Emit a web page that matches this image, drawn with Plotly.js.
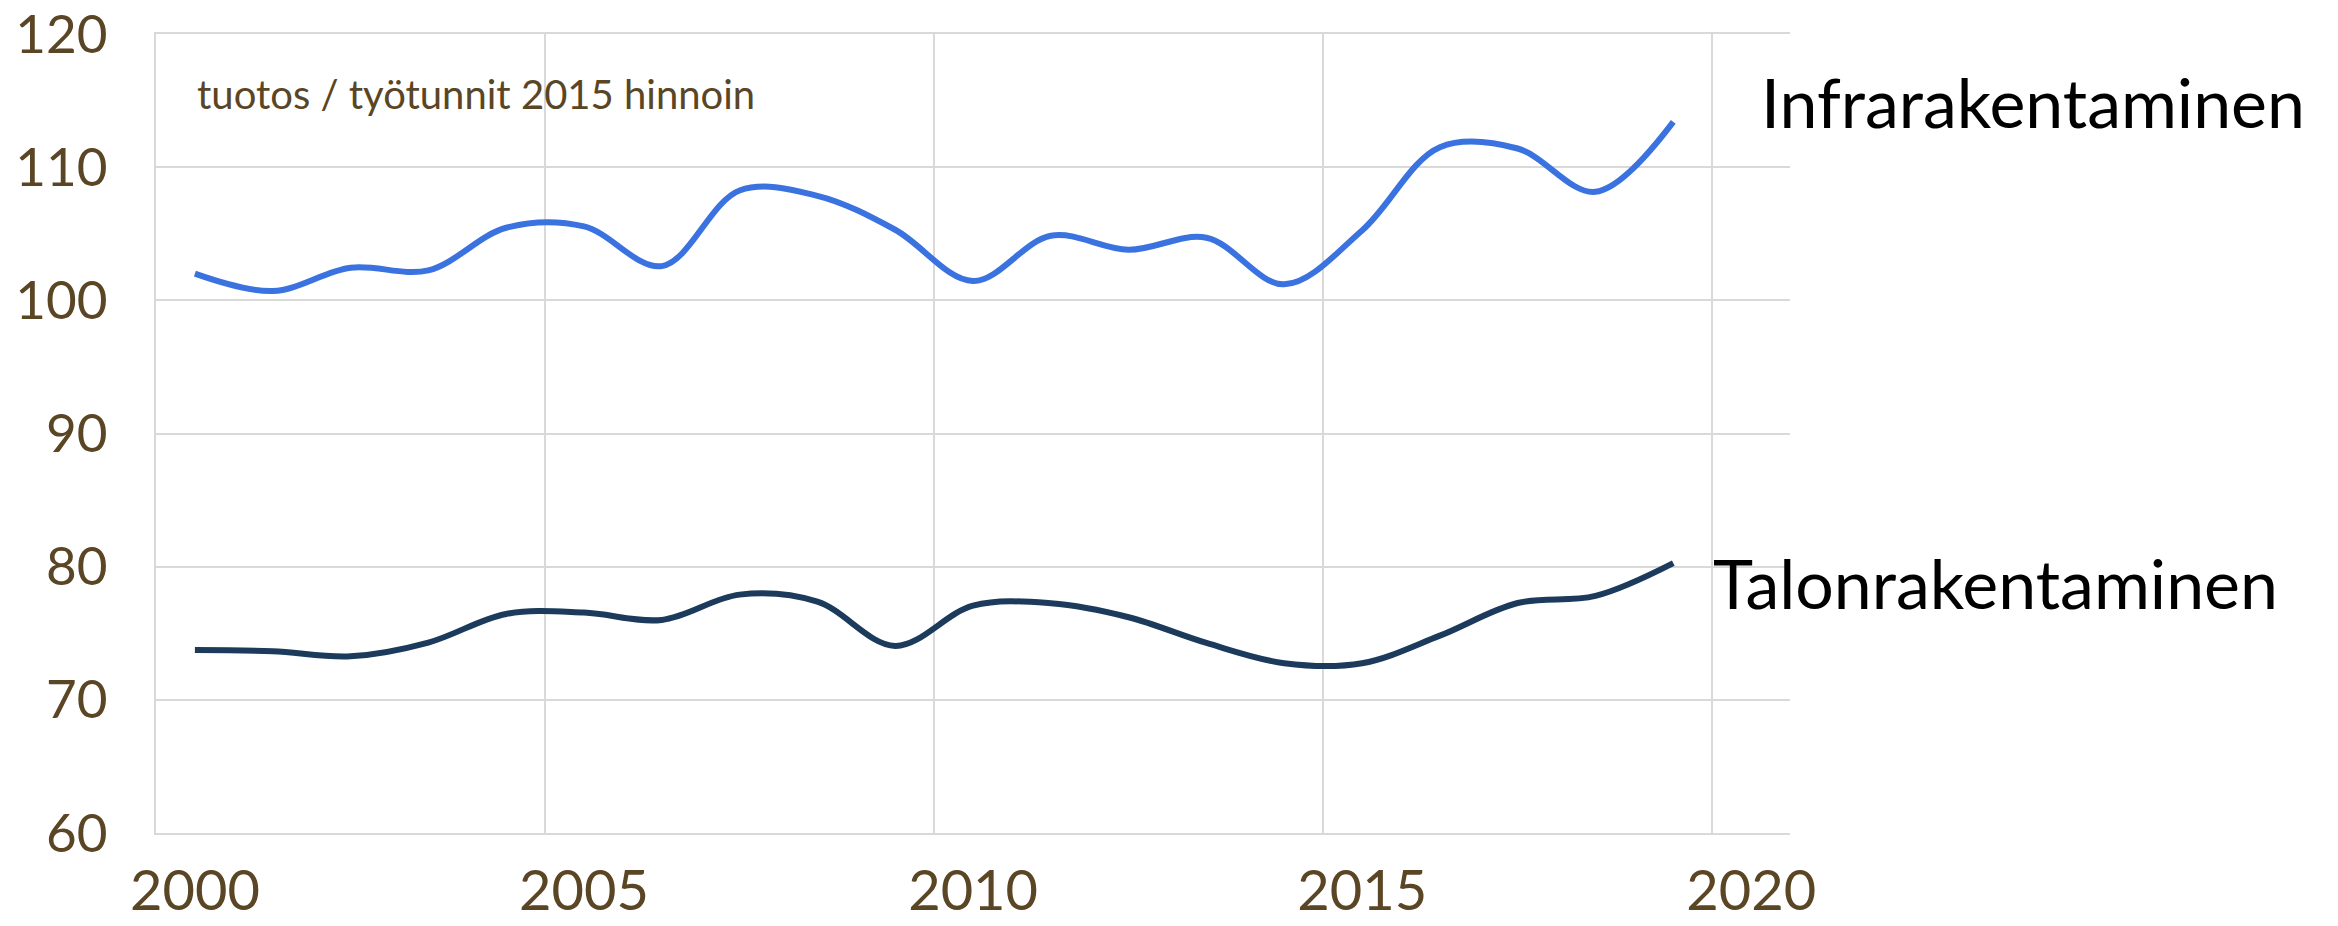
<!DOCTYPE html>
<html>
<head>
<meta charset="utf-8">
<script src="https://cdn.plot.ly/plotly-3.0.1.min.js"></script>
<style>
  html, body { margin: 0; padding: 0; background: #ffffff; }
  #chart { width: 2338px; height: 926px; }
</style>
</head>
<body>
<div id="chart"></div>
<script>
const years = [2000, 2001, 2002, 2003, 2004, 2005, 2006, 2007, 2008, 2009,
               2010, 2011, 2012, 2013, 2014, 2015, 2016, 2017, 2018, 2019];
const infrarakentaminen = [102.0, 100.7, 102.45, 102.25, 105.45, 105.55, 102.57, 108.25, 107.85, 105.3,
                           101.45, 104.85, 103.8, 104.7, 101.2, 105.25, 111.5, 111.4, 108.15, 113.4];
const talonrakentaminen = [73.75, 73.65, 73.27, 74.3, 76.45, 76.55, 76.0, 77.9, 77.37, 74.05,
                           77.07, 77.25, 76.2, 74.27, 72.75, 72.75, 74.82, 77.27, 77.8, 80.26];
const seriesNames = ["Infrarakentaminen", "Talonrakentaminen"];
const xTickLabels = ["2000", "2005", "2010", "2015", "2020"];
const xTickBoundaries = [1999.5, 2004.5, 2009.5, 2014.5, 2019.5];
const yTicks = [60, 70, 80, 90, 100, 110, 120];
const noteText = "tuotos / työtunnit 2015 hinnoin";

const tickColor = "#5a4524";
const gridColor = "#d9d9d9";
const fontFam = "Lato, 'Open Sans', sans-serif";

const traces = [
  {
    x: years, y: infrarakentaminen, name: seriesNames[0], type: "scatter", mode: "lines",
    line: { color: "#3a72e0", width: 6, shape: "spline", smoothing: 1 },
    hoverinfo: "skip"
  },
  {
    x: years, y: talonrakentaminen, name: seriesNames[1], type: "scatter", mode: "lines",
    line: { color: "#1b3a5c", width: 6, shape: "spline", smoothing: 1 },
    hoverinfo: "skip"
  }
];

const layout = {
  width: 2338, height: 926,
  margin: { l: 156, r: 548, t: 34, b: 93, pad: 0 },
  paper_bgcolor: "#ffffff", plot_bgcolor: "#ffffff",
  showlegend: false,
  font: { family: fontFam, color: tickColor },
  xaxis: {
    range: [1999.5, 2020.5],
    tickmode: "array",
    tickvals: xTickBoundaries,
    ticktext: xTickLabels,
    ticklabelshift: 39,
    ticklabelstandoff: 8,
    ticklabeloverflow: "allow",
    ticks: "",
    showgrid: true, gridcolor: gridColor, gridwidth: 2,
    showline: true, linecolor: gridColor, linewidth: 2, mirror: true,
    zeroline: false,
    tickfont: { family: fontFam, size: 56, color: tickColor }
  },
  yaxis: {
    range: [60, 120],
    tickmode: "array",
    tickvals: yTicks,
    ticks: "",
    ticklabelstandoff: 36,
    ticklabeloverflow: "allow",
    showgrid: true, gridcolor: gridColor, gridwidth: 2,
    showline: true, linecolor: gridColor, linewidth: 2,
    zeroline: false,
    tickfont: { family: fontFam, size: 53, color: tickColor }
  },
  annotations: [
    {
      x: 2000, y: 115.5, xref: "x", yref: "y", xanchor: "left", yanchor: "middle",
      text: noteText, showarrow: false,
      font: { family: fontFam, size: 40, color: tickColor }
    },
    {
      x: 2020.1, y: 114.95, xref: "x", yref: "y", xanchor: "left", yanchor: "middle",
      text: seriesNames[0], showarrow: false,
      font: { family: fontFam, size: 68, color: "#000000" }
    },
    {
      x: 2019.49, y: 78.8, xref: "x", yref: "y", xanchor: "left", yanchor: "middle",
      text: seriesNames[1], showarrow: false,
      font: { family: fontFam, size: 68, color: "#000000" }
    }
  ]
};

Plotly.newPlot("chart", traces, layout, { displayModeBar: false, staticPlot: true });
</script>
</body>
</html>
